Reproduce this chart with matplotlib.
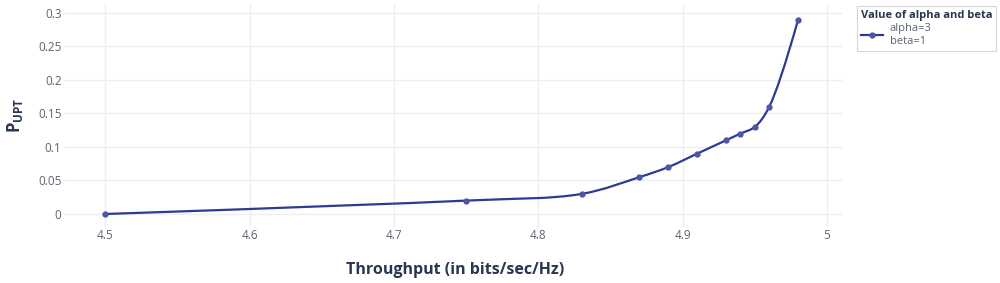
import numpy as np
import matplotlib
matplotlib.use("Agg")
import matplotlib.pyplot as plt
from matplotlib.path import Path
from matplotlib.patches import PathPatch
from matplotlib.lines import Line2D

throughput = [4.5, 4.75, 4.83, 4.87, 4.89, 4.91, 4.93, 4.94, 4.95, 4.96, 4.98]
p_upt = [0.0, 0.02, 0.03, 0.055, 0.07, 0.09, 0.11, 0.12, 0.13, 0.16, 0.29]
xticks = [4.5, 4.6, 4.7, 4.8, 4.9, 5.0]
xticklabels = ["4.5", "4.6", "4.7", "4.8", "4.9", "5"]
yticks = [0, 0.05, 0.1, 0.15, 0.2, 0.25, 0.3]
yticklabels = ["0", "0.05", "0.1", "0.15", "0.2", "0.25", "0.3"]

LINE = "#2e3a93"
MARK = "#4a56a6"
GRID = "#eceef3"
TICK = "#5d6470"
TITLE = "#2a3550"

plt.rcParams['font.family'] = ['Open Sans', 'DejaVu Sans']

fig = plt.figure(figsize=(10, 2.83), dpi=100)
W, H = 1000, 283
L, R, T, B = 65, 842, 4, 227
ax = fig.add_axes([L / W, 1 - B / H, (R - L) / W, (B - T) / H])
ax.set_xlim(4.472, 5.0104)
ax.set_ylim(-0.0194, 0.3134)

for s in ax.spines.values():
    s.set_visible(False)
ax.set_xticks(xticks)
ax.set_xticklabels(xticklabels)
ax.set_yticks(yticks)
ax.set_yticklabels(yticklabels)
ax.tick_params(axis='x', length=0, labelsize=8.5, labelcolor=TICK, pad=1.5)
ax.tick_params(axis='y', length=0, labelsize=8.5, labelcolor=TICK, pad=2.5)
ax.grid(True, color=GRID, linewidth=1)
ax.set_axisbelow(True)

# plotly-like spline in pixel space
fig.canvas.draw()
pts = ax.transData.transform(np.column_stack([throughput, p_upt]))
def tangent(p0, p1, p2, s=1.0):
    d1 = p0 - p1
    d2 = p2 - p1
    d1a = (d1 @ d1) ** 0.25
    d2a = (d2 @ d2) ** 0.25
    num = (d2a * d2a * d1 - d1a * d1a * d2) * s
    den1 = 3 * d2a * (d1a + d2a)
    den2 = 3 * d1a * (d1a + d2a)
    return p1 + num / den1, p1 - num / den2
tans = [tangent(pts[i - 1], pts[i], pts[i + 1]) for i in range(1, len(pts) - 1)]
verts = [pts[0]]
codes = [Path.MOVETO]
verts += [tans[0][0], pts[1]]
codes += [Path.CURVE3, Path.CURVE3]
for i in range(2, len(pts) - 1):
    verts += [tans[i - 2][1], tans[i - 1][0], pts[i]]
    codes += [Path.CURVE4] * 3
verts += [tans[-1][1], pts[-1]]
codes += [Path.CURVE3, Path.CURVE3]
inv = ax.transData.inverted()
verts_d = inv.transform(np.array(verts))
path = Path(verts_d, codes)
ax.add_patch(PathPatch(path, facecolor='none', edgecolor=LINE, linewidth=1.6, zorder=3))
ax.plot(throughput, p_upt, linestyle='none', marker='o', markersize=3.5,
        color=MARK, markeredgecolor=MARK, zorder=4)

fig.text(455 / W, 1 - 270 / H, "Throughput (in bits/sec/Hz)", ha='center', va='center',
         fontsize=11.5, fontweight='bold', color=TITLE)
fig.text(15 / W, 1 - 115 / H, r"P$_{\mathregular{UPT}}$", ha='center', va='center',
         rotation=90, fontsize=12, fontweight='bold', color=TITLE)

handle = Line2D([], [], color=LINE, linewidth=1.6, marker='o', markersize=3.5,
                markerfacecolor=MARK, markeredgecolor=MARK)
leg = fig.legend([handle], ["alpha=3\nbeta=1"], loc='upper left',
                 bbox_to_anchor=(857 / W, 1 - 6 / H), borderaxespad=0, frameon=True,
                 fontsize=8, title="Value of alpha and beta", title_fontsize=8,
                 handlelength=2.0, borderpad=0.35, labelspacing=0.2, handletextpad=0.6)
leg.get_title().set_fontweight('bold')
leg.get_title().set_color(TITLE)
leg._legend_box.align = "left"
for t in leg.get_texts():
    t.set_color(TICK)
fr = leg.get_frame()
fr.set_edgecolor('#cccccc')
fr.set_linewidth(0.8)
fr.set_boxstyle('square', pad=0)

fig.savefig("out.png", dpi=100)
